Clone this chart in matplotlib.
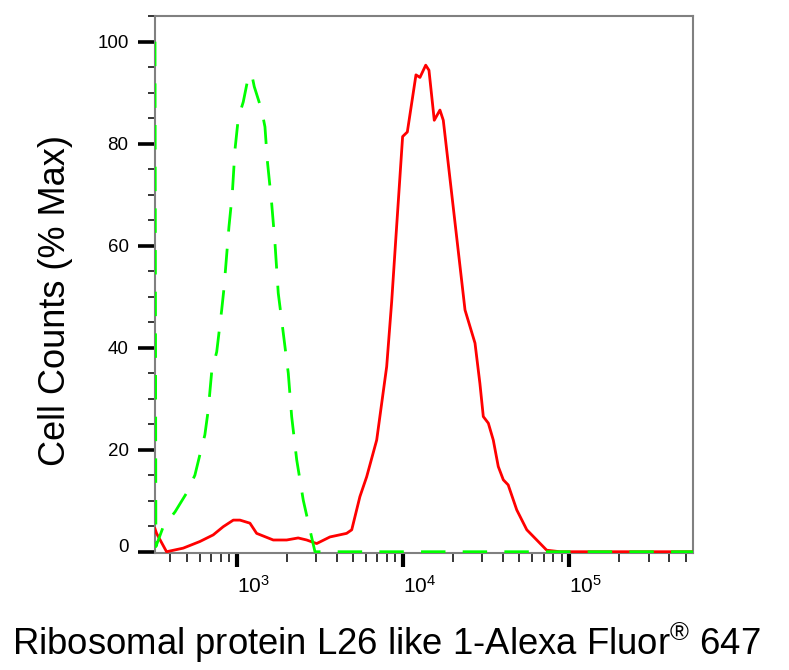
import matplotlib
matplotlib.use("Agg")
import matplotlib.pyplot as plt
from matplotlib.ticker import MultipleLocator, LogLocator, NullFormatter

plt.rcParams["font.family"] = ["Liberation Sans", "DejaVu Sans"]
plt.rcParams["mathtext.fontset"] = "custom"
plt.rcParams["mathtext.rm"] = "Liberation Sans"
plt.rcParams["mathtext.it"] = "Liberation Sans"
plt.rcParams["mathtext.bf"] = "Liberation Sans:bold"

# red: stained sample (intensity, % max)
red_x = [323, 330, 379, 477, 601, 723, 830, 955, 1047, 1202, 1319, 1660,
         1999, 2344, 2637, 3027, 3640, 4583, 4920, 5508, 6050, 6950, 7980,
         8550, 9040, 9950, 10620, 11970, 12650, 13700, 14330, 15420, 16680,
         17470, 23600, 27100, 29000, 30400, 32600, 34900, 37400, 40100,
         42900, 48300, 55500, 63700, 73100, 87900, 554000]
red_y = [4.5, 3.6, 0, 0.7, 2.0, 3.3, 4.9, 6.2, 6.2, 5.6, 3.6, 2.3,
         2.3, 2.7, 2.3, 1.6, 2.9, 3.6, 4.3, 10.8, 14.7, 21.9, 36.3,
         49, 61, 81.4, 82.3, 93.5, 93.0, 95.4, 94.4, 84.6, 86.6,
         84.6, 47.4, 40.9, 33, 26.5, 25.2, 21.9, 16.7, 14.1,
         13.1, 8.2, 4.3, 2.3, 0.3, 0, 0]

# green: isotype / unstained control
green_x = [323, 327, 362, 426, 500, 561, 601, 644, 675, 708, 759, 813, 839,
           899, 942, 977, 1023, 1096, 1175, 1231, 1276, 1414, 1480, 1528,
           1624, 1700, 1779, 1865, 2044, 2142, 2297, 2515, 2758, 2957, 554000]
green_y = [100, 1, 4.9, 7.8, 11.5, 15, 19, 22.9, 27.8, 35.3, 39.2, 47.4, 51.6,
           63.7, 70.3, 78.8, 85, 88.2, 93.1, 93.7, 91.2, 86.6, 83.3, 76.8,
           68.3, 60.5, 50.7, 45.4, 35, 26.5, 18, 10.1, 4.3, 0, 0]

yticks = [0, 20, 40, 60, 80, 100]
xticks = [1e3, 1e4, 1e5]
xtick_labels = [r"$10^{3}$", r"$10^{4}$", r"$10^{5}$"]

fig = plt.figure(figsize=(7.89, 6.70), dpi=100)
ax = fig.add_axes([155 / 789, 1 - 553 / 670, 538 / 789, 537.3 / 670])

ax.plot(red_x, red_y, color="#ff0000", lw=2.0, solid_joinstyle="round",
        zorder=3)
ax.plot(green_x, green_y, color="#00ff00", lw=2.0, dashes=(8.8, 6.2),
        zorder=3.5)

ax.set_xscale("log")
ax.set_xlim(323, 554000)
ax.set_ylim(-0.25, 105.1)

for side in ["left", "right", "top", "bottom"]:
    ax.spines[side].set_color("#808080")
    ax.spines[side].set_linewidth(1.5)

ax.set_yticks(yticks)
ax.yaxis.set_minor_locator(MultipleLocator(5))
ax.set_xticks(xticks, xtick_labels)
ax.xaxis.set_minor_locator(LogLocator(base=10, subs=range(2, 10), numticks=20))
ax.xaxis.set_minor_formatter(NullFormatter())

ax.tick_params(axis="y", which="major", length=12, width=2.6, pad=7,
               labelsize=13.5, color="black")
ax.tick_params(axis="y", which="minor", length=5, width=1.1, color="black")
ax.tick_params(axis="x", which="major", length=10, width=3, pad=6,
               labelsize=15, color="black")
ax.tick_params(axis="x", which="minor", length=6.5, width=1.1, color="black")

for lbl in ax.get_xticklabels():
    lbl.set_ha("left")
ax.get_yticklabels()[0].set_va("baseline")

fig.text(55.5 / 789, 1 - 301 / 670, "Cell Counts (% Max)", rotation=90,
         ha="center", va="center", fontsize=26)
fig.text(386.5 / 789, 1 - 655 / 670,
         "Ribosomal protein L26 like 1-Alexa Fluor$^{\\mathrm{®}}$ 647",
         ha="center", va="baseline", fontsize=26.3)

fig.savefig("out.png", dpi=100)
